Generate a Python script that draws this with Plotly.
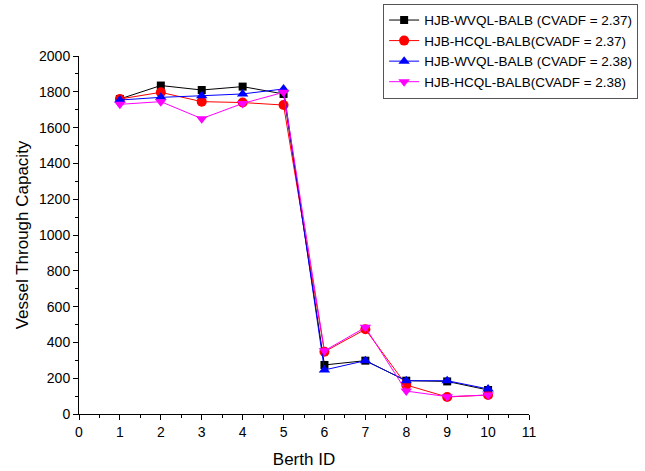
import plotly.graph_objects as go

berth_ids = [1, 2, 3, 4, 5, 6, 7, 8, 9, 10]
wvql_237 = [1760, 1835, 1810, 1829, 1788, 274, 298, 186, 182, 134]
hcql_237 = [1760, 1797, 1745, 1740, 1726, 348, 473, 162, 95, 106]
wvql_238 = [1754, 1769, 1778, 1788, 1816, 246, 298, 186, 186, 140]
hcql_238 = [1730, 1745, 1650, 1735, 1797, 353, 484, 128, 97, 106]

names = ["HJB-WVQL-BALB (CVADF = 2.37)", "HJB-HCQL-BALB(CVADF = 2.37)",
         "HJB-WVQL-BALB (CVADF = 2.38)", "HJB-HCQL-BALB(CVADF = 2.38)"]
series = [wvql_237, hcql_237, wvql_238, hcql_238]
colors = ["#000000", "#ff0000", "#0000ff", "#ff00ff"]
symbols = ["square", "circle", "triangle-up", "triangle-down"]
sizes = [8, 10, 10, 10]

fig = go.Figure()
for n, s, c, sym, sz in zip(names, series, colors, symbols, sizes):
    fig.add_trace(go.Scatter(x=berth_ids, y=s, name=n, mode="lines+markers",
                             line=dict(color=c, width=1),
                             marker=dict(color=c, symbol=sym, size=sz)))

fam = "Liberation Sans, Arial, sans-serif"
axis_font = dict(family=fam, size=14, color="#000")
fig.update_layout(
    width=645, height=471,
    margin=dict(l=79, r=116, t=56, b=57, autoexpand=False),
    paper_bgcolor="white", plot_bgcolor="white",
    font=axis_font,
    showlegend=True,
    legend=dict(xref="container", yref="container", x=0.594, y=0.992,
                xanchor="left", yanchor="top",
                bordercolor="#555", borderwidth=1, bgcolor="white",
                font=dict(family=fam, size=13.5, color="#000"),
                tracegroupgap=0),
)
fig.update_xaxes(range=[0, 11], dtick=1, tick0=0, showgrid=False, zeroline=False,
                 showline=True, linecolor="#000", linewidth=1, automargin=False,
                 ticks="outside", ticklen=5, tickcolor="#000",
                 minor=dict(ticks="outside", dtick=0.5, ticklen=3, tickcolor="#000"),
                 title=dict(text="Berth ID", font=dict(family=fam, size=17), standoff=14),
                 tickfont=axis_font)
fig.update_yaxes(range=[0, 2000], dtick=200, tick0=0, showgrid=False, zeroline=False,
                 showline=True, linecolor="#000", linewidth=1, automargin=False,
                 ticks="outside", ticklen=5, tickcolor="#000",
                 minor=dict(ticks="outside", dtick=100, ticklen=3, tickcolor="#000"),
                 title=dict(text="Vessel Through Capacity", font=dict(family=fam, size=17), standoff=6),
                 tickfont=axis_font)

fig.write_html("out.html")
